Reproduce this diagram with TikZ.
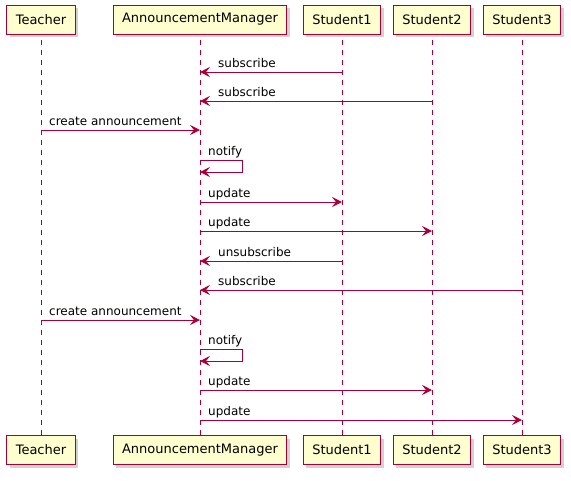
\documentclass[tikz,border=0pt]{standalone}
\usepackage{fontspec}
\setmainfont{DejaVu Sans}
\usetikzlibrary{arrows.meta, shadows}
\definecolor{umlred}{HTML}{A80036}
\definecolor{umlfill}{HTML}{FEFECE}
\tikzset{
  actor/.style={draw=umlred, fill=umlfill, line width=1pt, minimum height=29pt,
                inner xsep=9pt, font=\fontsize{13}{15}\selectfont,
                drop shadow={shadow xshift=3pt, shadow yshift=-3pt, opacity=0.25, fill=black!70}},
  lifeline/.style={draw=umlred, dash pattern=on 5pt off 5pt, line width=0.8pt},
  msg/.style={draw=umlred, line width=0.9pt, -{Stealth[length=10pt, width=10pt, inset=4pt]}},
  msglbl/.style={font=\fontsize{12}{14}\selectfont, anchor=base west, inner sep=0pt},
}
\begin{document}
\begin{tikzpicture}[x=1pt, y=-1pt]
  \useasboundingbox (0,0) rectangle (571,480);

  % participants, top and bottom
  \foreach \name/\x in {teacher/41, manager/200, student1/342, student2/432, student3/522} {
    \coordinate (\name) at (\x,19.5);
    \coordinate (\name B) at (\x,450);
  }
  \foreach \name in {teacher, manager, student1, student2, student3}
    \draw[lifeline] (\name) -- (\name B);
  \foreach \name/\txt in {teacher/Teacher, manager/AnnouncementManager,
      student1/Student1, student2/Student2, student3/Student3} {
    \node[actor] (\name top) at (\name) {\txt};
    \node[actor] (\name bot) at (\name B) {\txt};
  }

  % messages to the right
  \foreach \src/\dst/\y/\txt [count=\i] in {teacher/manager/130/create announcement,
      manager/student1/202/update, manager/student2/231/update,
      teacher/manager/320/create announcement, manager/student2/390/update,
      manager/student3/420/update} {
    \coordinate (r\i s) at (\src |- 0,\y);
    \coordinate (r\i e) at (\dst |- 0,\y);
    \draw[msg] (r\i s) -- (r\i e);
    \node[msglbl, xshift=8pt, yshift=5pt] (r\i lbl) at (r\i s) {\txt};
  }

  % messages to the left
  \foreach \src/\dst/\y/\txt [count=\i] in {student1/manager/72/subscribe,
      student2/manager/101/subscribe, student1/manager/261/unsubscribe,
      student3/manager/290/subscribe} {
    \coordinate (l\i s) at (\src |- 0,\y);
    \coordinate (l\i e) at (\dst |- 0,\y);
    \draw[msg] (l\i s) -- (l\i e);
    \node[msglbl, xshift=18pt, yshift=5pt] (l\i lbl) at (l\i e) {\txt};
  }

  % self messages
  \foreach \y [count=\i] in {160, 349} {
    \coordinate (n\i s) at (manager |- 0,\y);
    \coordinate (n\i e) at (manager |- 0,\y+12);
    \draw[msg] (n\i s) -- ++(42,0) -- ++(0,12) -- (n\i e);
    \node[msglbl, xshift=8pt, yshift=5pt] (n\i lbl) at (n\i s) {notify};
  }
\end{tikzpicture}
\end{document}
